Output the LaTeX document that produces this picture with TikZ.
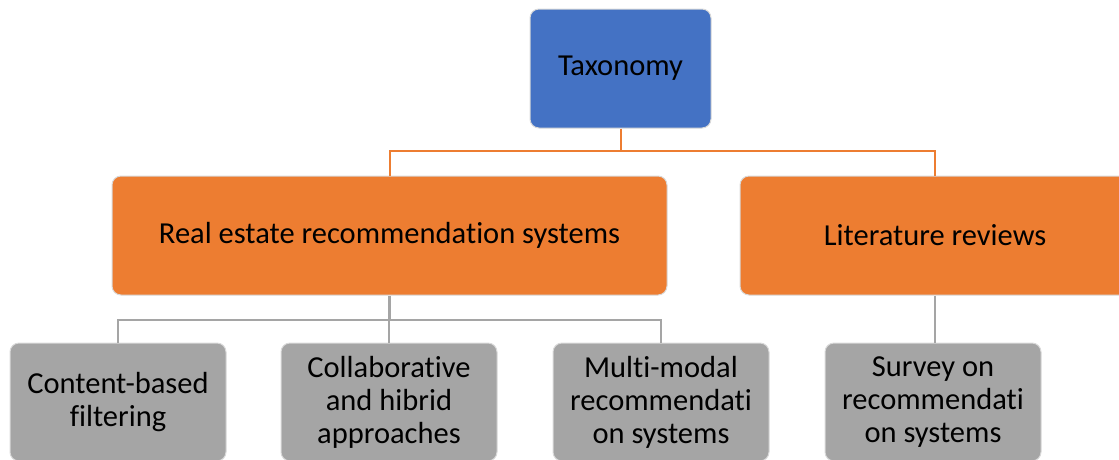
\documentclass[tikz,border=0pt]{standalone}
\usepackage{fontspec}
\setmainfont{Carlito}[Ligatures=NoCommon]
\definecolor{tblue}{HTML}{4472C4}
\definecolor{torange}{HTML}{ED7D31}
\definecolor{tgray}{HTML}{A5A5A5}
\definecolor{tline}{HTML}{A5A5A5}
\definecolor{tedge}{HTML}{D9D9D9}
\begin{document}
\begin{tikzpicture}[x=1pt,y=-1pt,
  box/.style={rectangle, rounded corners=9pt, draw=tedge, line width=1pt,
    inner sep=0pt, align=center, text=black,
    font=\fontsize{30.5}{33}\selectfont},
  topbox/.style={box, fill=tblue, minimum width=181pt, minimum height=119pt},
  midbox/.style={box, fill=torange, minimum height=119pt},
  leafbox/.style={box, fill=tgray, minimum width=216pt, minimum height=118pt},
  oline/.style={draw=torange, line width=2pt},
  gline/.style={draw=tline, line width=2.2pt}]
\useasboundingbox (0,0) rectangle (1119,459);
\clip (0,0) rectangle (1119,459);
\node[topbox] (tax) at (620.5,68.5) {Taxonomy};
\node[midbox, minimum width=555pt] (re) at (389.5,235.5) {Real estate recommendation systems};
\node[midbox, minimum width=390pt] (lit) at (935,235.5) {Literature reviews};
\node[leafbox] (g1) at (118,402) {Content-based\\filtering};
\node[leafbox] (g2) at (389,402) {Collaborative\\and hibrid\\approaches};
\node[leafbox] (g3) at (661,402) {Multi-modal\\recommendati\\on systems};
\node[leafbox] (g4) at (933,402) {Survey on\\recommendati\\on systems};
\coordinate (oj) at (620.5,151);
\coordinate (gj) at (389.5,320);
\path[oline] (tax.south) -- (oj) -| (re.north);
\path[oline] (oj) -| (lit.north);
\path[gline] (re.south) -- (gj) -| (g1.north);
\path[gline] (gj) -| (g2.north);
\path[gline] (gj) -| (g3.north);
\path[gline] (lit.south) -- (lit.south |- g4.north);
\end{tikzpicture}
\end{document}
